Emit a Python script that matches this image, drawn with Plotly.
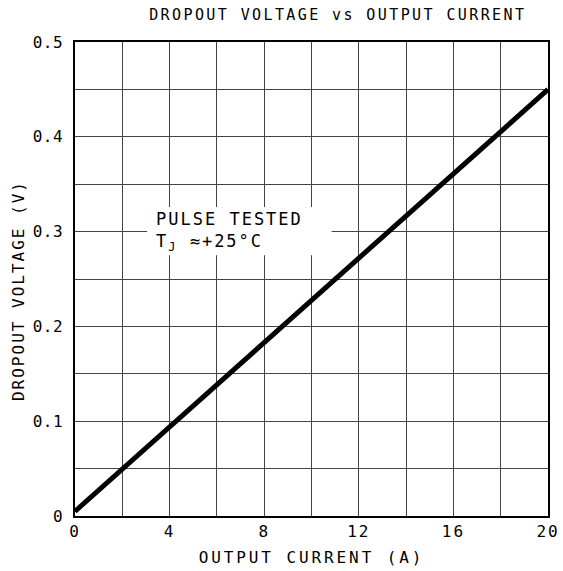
import plotly.graph_objects as go

# Data
current_a = [0, 20]
dropout_v = [0.005, 0.45]

x_tick_vals = [0, 4, 8, 12, 16, 20]
x_tick_text = ["0", "4", "8", "12", "16", "20"]
x_grid_vals = [2, 6, 10, 14, 18]
y_tick_vals = [0, 0.1, 0.2, 0.3, 0.4, 0.5]
y_tick_text = ["0", "0.1", "0.2", "0.3", "0.4", "0.5"]
y_grid_vals = [0.05, 0.15, 0.25, 0.35, 0.45]

title_text = "DROPOUT VOLTAGE vs OUTPUT CURRENT"
x_title = "OUTPUT CURRENT (A)"
y_title = "DROPOUT VOLTAGE (V)"
note_text = "PULSE TESTED<br>T<sub>J</sub> ≈+25°C"

FONT = "DejaVu Sans Mono"
GRID = "#444444"

fig = go.Figure()
fig.add_trace(go.Scatter(x=current_a, y=dropout_v, mode="lines",
                         line=dict(color="black", width=5), showlegend=False,
                         hoverinfo="skip"))

axis_common = dict(showline=True, linecolor="black", linewidth=1.5, mirror=True,
                   showgrid=True, gridcolor=GRID, gridwidth=1, automargin=False,
                   zeroline=False, ticks="", tickfont=dict(family=FONT, size=16, color="black"))

fig.update_xaxes(range=[0, 20], tickmode="array", tickvals=x_tick_vals, ticktext=x_tick_text,
                 minor=dict(tickmode="array", tickvals=x_grid_vals, showgrid=True,
                            gridcolor=GRID, gridwidth=1, ticks=""),
                 title=dict(text=x_title, font=dict(family=FONT, size=16, color="black"), standoff=12),
                 **axis_common)
fig.update_yaxes(range=[0, 0.5], tickmode="array", tickvals=y_tick_vals, ticktext=y_tick_text,
                 minor=dict(tickmode="array", tickvals=y_grid_vals, showgrid=True,
                            gridcolor=GRID, gridwidth=1, ticks=""),
                 ticklabelstandoff=7,
                 **axis_common)

# y axis title placed as a rotated annotation
fig.add_annotation(x=-0.118, y=0.475, xref="paper", yref="paper", text=y_title,
                   textangle=-90, showarrow=False, xanchor="center", yanchor="middle",
                   font=dict(family=FONT, size=16, color="black"))

# white box behind the note, hiding grid lines
fig.add_shape(type="rect", xref="x", yref="y", x0=3.05, x1=10.85, y0=0.275, y1=0.326,
              fillcolor="white", line=dict(width=0), layer="between")
fig.add_annotation(x=3.35, y=0.3, xref="x", yref="y", xanchor="left", yanchor="middle",
                   text=note_text, showarrow=False, align="left",
                   font=dict(family=FONT, size=17, color="black"))

fig.update_layout(
    width=563, height=571,
    margin=dict(l=75, r=15, t=42, b=55),
    paper_bgcolor="white", plot_bgcolor="white",
    title=dict(text=title_text, x=0.6, xref="container", xanchor="center",
               y=0.975, yref="container", yanchor="middle",
               font=dict(family=FONT, size=15, color="black")),
)

post = """
var s=document.createElement('style');
s.textContent='html,body{margin:0;padding:0;overflow:hidden} .gtitle{letter-spacing:2.4px} .xtitle{letter-spacing:2.9px} .annotation-text{letter-spacing:2px} .xtick text{letter-spacing:2px} .ytick text{letter-spacing:0.5px}';
document.head.appendChild(s);
"""
fig.write_html("out.html", post_script=post, config={"displayModeBar": False})
